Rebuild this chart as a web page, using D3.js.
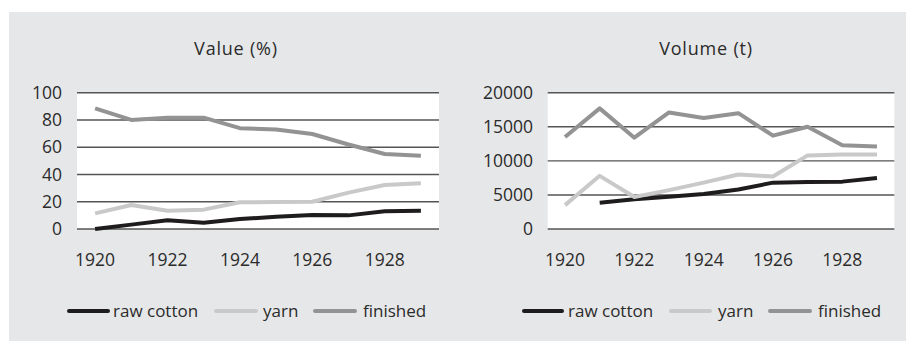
<!DOCTYPE html>
<html>
<head>
<meta charset="utf-8">
<script src="https://cdn.jsdelivr.net/npm/d3@7"></script>
<style>
  html, body { margin: 0; padding: 0; background: #ffffff; }
  svg { display: block; font-family: "Open Sans", "Noto Sans", sans-serif; }
</style>
</head>
<body>
<svg id="chart" width="906" height="341"></svg>
<script>
// Cotton trade, 1920–1929: share of value and volume by processing stage
const years = [1920, 1921, 1922, 1923, 1924, 1925, 1926, 1927, 1928, 1929];
const yearTicks = [1920, 1922, 1924, 1926, 1928];

const valueRawCotton = [0, 3.2, 6.4, 4.6, 7.3, 9, 10.3, 10, 13, 13.4];
const valueYarn      = [11.5, 17.6, 13.4, 14.2, 19.6, 19.8, 20, 26.7, 32.3, 33.5];
const valueFinished  = [88.5, 80, 81.7, 81.7, 74, 73, 69.7, 62, 55, 53.8];
const valueTicks = [0, 20, 40, 60, 80, 100];

const volumeRawCotton = [null, 3860, 4350, 4740, 5130, 5800, 6800, 6900, 6950, 7500];
const volumeYarn      = [3500, 7800, 4700, 5700, 6800, 8000, 7700, 10800, 10950, 10950];
const volumeFinished  = [13500, 17700, 13400, 17100, 16300, 17000, 13700, 15000, 12300, 12100];
const volumeTicks = [0, 5000, 10000, 15000, 20000];

const seriesNames = ["raw cotton", "yarn", "finished"];
const seriesColors = ["#1e1c1d", "#c9c9c9", "#939393"];

const svg = d3.select("#chart");
const textColor = "#2b2b2b";
const font = "\"Open Sans\", sans-serif";

// panel background
svg.append("rect")
  .attr("x", 9).attr("y", 12)
  .attr("width", 906 - 9).attr("height", 341 - 12)
  .attr("fill", "#e6e7e8");

function drawPanel(opts) {
  const { title, x0, x1, labelRight, titleX, series, ticks, yMax, legend } = opts;
  const yTop = 92.7, yBottom = 229;

  const x = d3.scaleBand().domain(years).range([x0, x1]);
  const y = d3.scaleLinear().domain([0, yMax]).range([yBottom, yTop]);

  const g = svg.append("g");

  g.append("rect")
    .attr("x", x0).attr("y", yTop)
    .attr("width", x1 - x0).attr("height", yBottom - yTop)
    .attr("fill", "#ffffff");

  // gridlines
  g.selectAll("line.grid").data(ticks).join("line")
    .attr("class", "grid")
    .attr("x1", x0).attr("x2", x1)
    .attr("y1", d => y(d)).attr("y2", d => y(d))
    .attr("stroke", "#555555").attr("stroke-width", 1.4);

  // y tick labels
  const yAxis = d3.axisLeft(y).tickValues(ticks).tickFormat(d3.format("d"))
    .tickSize(0).tickPadding(0);
  const ya = g.append("g").attr("transform", `translate(${labelRight},0)`).call(yAxis);
  ya.select(".domain").remove();
  ya.selectAll("text")
    .attr("font-size", 17.5).attr("fill", textColor)
    .attr("font-family", font);

  // x tick labels
  const xAxis = d3.axisBottom(x).tickValues(yearTicks).tickFormat(d3.format("d"))
    .tickSize(0).tickPadding(0);
  const xa = g.append("g").attr("transform", `translate(0,254)`).call(xAxis);
  xa.select(".domain").remove();
  xa.selectAll("text")
    .attr("font-size", 17.5).attr("fill", textColor)
    .attr("font-family", font);

  // series lines
  const line = d3.line()
    .defined(d => d[1] != null)
    .x(d => x(d[0]) + x.bandwidth() / 2)
    .y(d => y(d[1]));

  series.forEach((vals, i) => {
    g.append("path")
      .datum(years.map((yr, j) => [yr, vals[j]]))
      .attr("d", line)
      .attr("fill", "none")
      .attr("stroke", seriesColors[i])
      .attr("stroke-width", 4)
      .attr("stroke-linejoin", "round");
  });

  // title
  g.append("text")
    .attr("x", titleX).attr("y", 55)
    .attr("text-anchor", "middle")
    .attr("font-size", 18).attr("letter-spacing", 0.8)
    .attr("fill", textColor)
    .text(title);

  // legend
  const lg = g.append("g");
  seriesNames.forEach((name, i) => {
    const L = legend[i];
    lg.append("line")
      .attr("x1", L.x1).attr("x2", L.x2)
      .attr("y1", 311).attr("y2", 311)
      .attr("stroke", seriesColors[i]).attr("stroke-width", 4)
      .attr("stroke-linecap", "round");
    lg.append("text")
      .attr("x", L.tx).attr("y", 317)
      .attr("font-size", 17).attr("fill", textColor)
      .text(name);
  });
}

drawPanel({
  title: "Value (%)",
  x0: 77, x1: 439, labelRight: 62, titleX: 236,
  series: [valueRawCotton, valueYarn, valueFinished],
  ticks: valueTicks, yMax: 100,
  legend: [{ x1: 69, x2: 108, tx: 113 }, { x1: 216, x2: 256, tx: 263 }, { x1: 315, x2: 355, tx: 363 }]
});

drawPanel({
  title: "Volume (t)",
  x0: 547.7, x1: 894.3, labelRight: 533, titleX: 706,
  series: [volumeRawCotton, volumeYarn, volumeFinished],
  ticks: volumeTicks, yMax: 20000,
  legend: [{ x1: 524, x2: 562, tx: 568 }, { x1: 671, x2: 710, tx: 718 }, { x1: 770, x2: 810, tx: 818 }]
});
</script>
</body>
</html>
